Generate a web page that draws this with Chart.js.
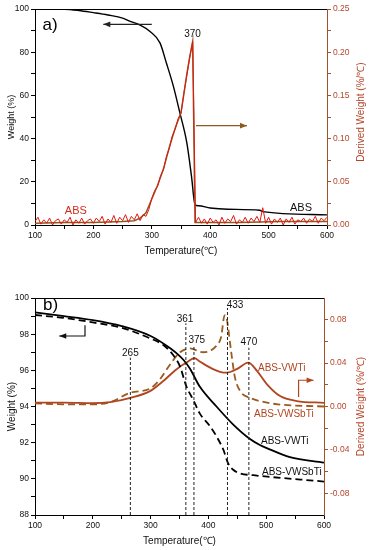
<!DOCTYPE html>
<html>
<head>
<meta charset="utf-8">
<script src="https://cdn.jsdelivr.net/npm/chart.js@4.4.0/dist/chart.umd.min.js"></script>
<style>
  body { margin: 0; background: #fff; }
  canvas { position: absolute; left: 0; }
  #grafA { top: 0; }
  #grafB { top: 260px; }
</style>
</head>
<body>
<canvas id="grafA" width="373" height="260"></canvas>
<canvas id="grafB" width="373" height="290"></canvas>
<script>
// ---- Datos panel a) ----
const tempPesoA = [100, 150, 175, 200, 225, 250, 263, 280, 297, 314, 325, 337, 348, 360, 368, 374, 380, 400, 430, 485, 490, 600];
const pesoA = [100, 99.9, 99.3, 98.3, 97.2, 95.8, 94.3, 92.5, 89.6, 84.3, 75, 64.2, 52, 38, 22.5, 9.4, 8.9, 7.9, 7.3, 6.8, 6.2, 4.7];

const tempDerivA = [100, 150, 200, 250, 270, 280, 290, 300, 310, 320, 330, 340, 350, 355, 360, 365, 370, 374, 380, 450, 520, 600];
const derivA = [0.002, 0.003, 0.003, 0.004, 0.005, 0.008, 0.014, 0.030, 0.046, 0.065, 0.090, 0.112, 0.130, 0.152, 0.175, 0.195, 0.2125, 0.003, 0.003, 0.003, 0.004, 0.004];

// señal ruidosa (cada 5 grados desde 100 hasta 600)
const ruidoA = [
  0.004, 0.009, 0.001, 0.006, 0.002, 0.008, 0.000, 0.005, 0.007, 0.001, 0.006, 0.003, 0.009, 0.000, 0.006, 0.002, 0.008, 0.001, 0.005, 0.007,
  0.002, 0.008, 0.004, 0.010, 0.001, 0.007, 0.003, 0.011, 0.002, 0.009, 0.005, 0.012, 0.003, 0.010, 0.006, 0.013, 0.005, 0.012, 0.010, 0.018,
  0.031, 0.040, 0.045, 0.057, 0.064, 0.079, 0.089, 0.103, 0.111, 0.123, 0.129, 0.153, 0.173, 0.194, 0.212,
  0.003, 0.009, 0.002, 0.007, 0.001, 0.008, 0.003, 0.006, 0.000, 0.009, 0.002, 0.007, 0.004, 0.011, 0.001, 0.006, 0.003, 0.009, 0.002, 0.008,
  0.004, 0.010, 0.003, 0.020, 0.002, 0.009, 0.001, 0.007, 0.003, 0.008, 0.000, 0.007, 0.003, 0.009, 0.001, 0.006, 0.004, 0.008, 0.002, 0.007,
  0.004, 0.010, 0.002, 0.008, 0.005, 0.009
];
const ruidoTempA = ruidoA.map((v, i) => 100 + i * 5);

// ---- Datos panel b) ----
const tempVWTi = [100, 150, 200, 250, 300, 334, 350, 357, 368, 385, 414, 443, 472, 489, 501, 541, 600];
const pesoVWTi = [99.2, 99.0, 98.78, 98.45, 97.9, 97.22, 96.8, 96.57, 96.1, 95.1, 94.0, 93.0, 92.2, 91.87, 91.7, 91.2, 90.9];

const tempVWSbTi = [100, 150, 200, 250, 299, 322, 339, 351, 362, 374, 385, 403, 414, 426, 434, 443, 455, 478, 600];
const pesoVWSbTi = [99.06, 98.9, 98.65, 98.35, 97.77, 97.4, 96.85, 96.2, 95.1, 94.36, 93.62, 92.9, 92.35, 91.6, 90.87, 90.5, 90.3, 90.2, 89.85];

const tempDtgVWTi = [100, 150, 200, 230, 265, 299, 322, 345, 362, 376, 385, 408, 420, 432, 449, 469, 484, 501, 524, 553, 600];
const dtgVWTi = [0.0035, 0.0035, 0.003, 0.004, 0.008, 0.0142, 0.0235, 0.0344, 0.0405, 0.0445, 0.0415, 0.0344, 0.032, 0.0312, 0.0344, 0.0405, 0.0328, 0.0207, 0.0096, 0.005, 0.0034];

const tempDtgVWSbTi = [100, 150, 200, 230, 265, 299, 316, 334, 351, 368, 391, 414, 422, 428, 431, 434, 440, 446, 455, 472, 489, 520, 600];
const dtgVWSbTi = [0.003, 0.002, 0.002, 0.004, 0.0127, 0.0165, 0.025, 0.039, 0.05, 0.0535, 0.05, 0.056, 0.064, 0.084, 0.083, 0.073, 0.048, 0.0266, 0.0142, 0.008, 0.005, 0.002, 0.0];

// picos marcados con lineas discontinuas
const picosT = [265, 361, 375, 433, 470];
const picosTope = [96.7, 98.6, 97.4, 99.45, 97.25];
const picosTexto = ['265', '361', '375', '433', '470'];

// ---- Marcas de los ejes ----
const xMarcas = [100, 200, 300, 400, 500, 600];
const xMenores = [150, 250, 350, 450, 550];
const pesoMarcasA = [0, 20, 40, 60, 80, 100];
const pesoMenoresA = [10, 30, 50, 70, 90];
const derivMarcasA = [0, 0.05, 0.10, 0.15, 0.20, 0.25];
const derivMenoresA = [0.025, 0.075, 0.125, 0.175, 0.225];
const pesoMarcasB = [88, 90, 92, 94, 96, 98, 100];
const pesoMenoresB = [89, 91, 93, 95, 97, 99];
const derivMarcasB = [-0.08, -0.04, 0, 0.04, 0.08];
const derivMenoresB = [-0.06, -0.02, 0.02, 0.06];

// colores
const NEGRO = '#000';
const ROJO = '#e3170f';
const MARRON = '#8c5a23';
const OXIDO = '#b0451f';
const MARRON_EJE = '#a0522d';
const TEXTO_DER = '#b5452a';
const FUENTE = "'Liberation Sans', Arial, sans-serif";

function puntos(xs, ys) {
  return xs.map((x, i) => ({ x: x, y: ys[i] }));
}

function ejeMarcas(mayores, menores, decimales) {
  const todas = mayores.concat(menores).sort((a, b) => a - b);
  return {
    afterBuildTicks: s => { s.ticks = todas.map(v => ({ value: v })); },
    callback: v => mayores.includes(v) ? (decimales ? v.toFixed(decimales) : String(v)) : ''
  };
}

function escalaX(ancho) {
  const m = ejeMarcas(xMarcas, xMenores, 0);
  return {
    type: 'linear', min: 100, max: 600,
    afterBuildTicks: m.afterBuildTicks,
    afterFit: s => { s.height = ancho; },
    border: { color: NEGRO, width: 1 },
    grid: { drawOnChartArea: false, tickLength: 4, color: NEGRO },
    ticks: { callback: m.callback, autoSkip: false, maxRotation: 0, padding: 2, color: '#111', font: { family: FUENTE, size: 8.5 } }
  };
}

function escalaY(pos, min, max, mayores, menores, dec, ancho, color, colorTxt) {
  const m = ejeMarcas(mayores, menores, dec);
  return {
    type: 'linear', position: pos, min: min, max: max,
    afterBuildTicks: m.afterBuildTicks,
    afterFit: s => { s.width = ancho; },
    border: { color: color, width: 1 },
    grid: { drawOnChartArea: false, tickLength: 4, color: color },
    ticks: { callback: m.callback, autoSkip: false, padding: 2, color: colorTxt, font: { family: FUENTE, size: 8.5 } }
  };
}

// ---- utilidades de dibujo ----
function texto(ctx, str, x, y, color, size, align, rot) {
  ctx.save();
  ctx.translate(x, y);
  if (rot) ctx.rotate(rot);
  ctx.fillStyle = color;
  ctx.font = size + 'px ' + FUENTE;
  ctx.textAlign = align || 'center';
  ctx.textBaseline = 'middle';
  ctx.fillText(str, 0, 0);
  ctx.restore();
}

function flecha(ctx, pts, color) {
  ctx.save();
  ctx.strokeStyle = color;
  ctx.fillStyle = color;
  ctx.lineWidth = 1.2;
  ctx.beginPath();
  ctx.moveTo(pts[0][0], pts[0][1]);
  for (let i = 1; i < pts.length; i++) ctx.lineTo(pts[i][0], pts[i][1]);
  ctx.stroke();
  const n = pts.length;
  const x1 = pts[n - 2][0], y1 = pts[n - 2][1], x2 = pts[n - 1][0], y2 = pts[n - 1][1];
  const a = Math.atan2(y2 - y1, x2 - x1);
  ctx.beginPath();
  ctx.moveTo(x2, y2);
  ctx.lineTo(x2 - 7 * Math.cos(a) + 2.8 * Math.sin(a), y2 - 7 * Math.sin(a) - 2.8 * Math.cos(a));
  ctx.lineTo(x2 - 7 * Math.cos(a) - 2.8 * Math.sin(a), y2 - 7 * Math.sin(a) + 2.8 * Math.cos(a));
  ctx.closePath();
  ctx.fill();
  ctx.restore();
}

function marco(chart) {
  const ctx = chart.ctx, ca = chart.chartArea;
  ctx.save();
  ctx.strokeStyle = NEGRO;
  ctx.lineWidth = 1;
  ctx.beginPath();
  ctx.moveTo(ca.left, ca.top + 0.5);
  ctx.lineTo(ca.right, ca.top + 0.5);
  ctx.stroke();
  ctx.restore();
}

// ---- Grafico a) ----
const extrasA = {
  id: 'extrasA',
  afterDraw(chart) {
    const ctx = chart.ctx, sx = chart.scales.x, yl = chart.scales.yPeso, yr = chart.scales.yDeriv;
    const ca = chart.chartArea;
    marco(chart);
    texto(ctx, 'a)', sx.getPixelForValue(113), yl.getPixelForValue(92.6), NEGRO, 17, 'left');
    texto(ctx, '370', sx.getPixelForValue(369.7), yr.getPixelForValue(0.2213), '#111', 10);
    texto(ctx, 'ABS', sx.getPixelForValue(170), yl.getPixelForValue(6.6), '#d42a1a', 11);
    texto(ctx, 'ABS', sx.getPixelForValue(555.5), yl.getPixelForValue(7.9), '#111', 11);
    flecha(ctx, [[sx.getPixelForValue(300), yl.getPixelForValue(92.9)], [sx.getPixelForValue(217), yl.getPixelForValue(92.9)]], '#222');
    flecha(ctx, [[sx.getPixelForValue(375.7), yr.getPixelForValue(0.115)], [sx.getPixelForValue(463), yr.getPixelForValue(0.115)]], MARRON);
    texto(ctx, 'Temperature(℃)', (ca.left + ca.right) / 2, 251.5, '#111', 10);
    texto(ctx, 'Weight (%)', 12, (ca.top + ca.bottom) / 2, '#111', 9, 'center', -Math.PI / 2);
    texto(ctx, 'Derived Weight (%/℃)', 361.5, 112, TEXTO_DER, 10, 'center', -Math.PI / 2);
  }
};

new Chart(document.getElementById('grafA'), {
  type: 'line',
  data: {
    datasets: [
      { data: puntos(ruidoTempA, ruidoA), yAxisID: 'yDeriv', borderColor: ROJO, borderWidth: 1 },
      { data: puntos(tempDerivA, derivA), yAxisID: 'yDeriv', borderColor: MARRON, borderWidth: 1.5 },
      { data: puntos(tempPesoA, pesoA), yAxisID: 'yPeso', borderColor: NEGRO, borderWidth: 1.4, cubicInterpolationMode: 'monotone' }
    ]
  },
  options: {
    responsive: false,
    animation: false,
    layout: { padding: { top: 9, left: 0, right: 0, bottom: 0 } },
    elements: { point: { radius: 0 } },
    plugins: { legend: { display: false }, tooltip: { enabled: false } },
    scales: {
      x: escalaX(35),
      yPeso: escalaY('left', 0, 100, pesoMarcasA, pesoMenoresA, 0, 35, NEGRO, '#111'),
      yDeriv: escalaY('right', 0, 0.25, derivMarcasA, derivMenoresA, 2, 46, MARRON_EJE, TEXTO_DER)
    }
  },
  plugins: [extrasA]
});

// ---- Grafico b) ----
const extrasB = {
  id: 'extrasB',
  afterDraw(chart) {
    const ctx = chart.ctx, sx = chart.scales.x, yl = chart.scales.yPeso, yr = chart.scales.yDeriv;
    const ca = chart.chartArea;
    marco(chart);
    texto(ctx, 'b)', sx.getPixelForValue(113.8), yl.getPixelForValue(99.6), NEGRO, 17, 'left');
    const etiquetaPos = [[265, 96.97], [359.5, 98.84], [379.8, 97.68], [446, 99.61], [470, 97.53]];
    picosTexto.forEach((t, i) => {
      texto(ctx, t, sx.getPixelForValue(etiquetaPos[i][0]), yl.getPixelForValue(etiquetaPos[i][1]), '#111', 10);
    });
    texto(ctx, 'ABS-VWTi', sx.getPixelForValue(485.8), yl.getPixelForValue(96.13), OXIDO, 10, 'left');
    texto(ctx, 'ABS-VWSbTi', sx.getPixelForValue(478.9), yl.getPixelForValue(93.58), OXIDO, 10, 'left');
    texto(ctx, 'ABS-VWTi', sx.getPixelForValue(491), yl.getPixelForValue(92.09), '#111', 10, 'left');
    texto(ctx, 'ABS-VWSbTi', sx.getPixelForValue(492.7), yl.getPixelForValue(90.39), '#111', 10, 'left');
    flecha(ctx, [[sx.getPixelForValue(186.5), yl.getPixelForValue(98.5)], [sx.getPixelForValue(186.5), yl.getPixelForValue(97.9)], [sx.getPixelForValue(142), yl.getPixelForValue(97.9)]], '#111');
    flecha(ctx, [[sx.getPixelForValue(556), yr.getPixelForValue(0.0087)], [sx.getPixelForValue(556), yr.getPixelForValue(0.0242)], [sx.getPixelForValue(582), yr.getPixelForValue(0.0242)]], OXIDO);
    texto(ctx, 'Temperature(℃)', (ca.left + ca.right) / 2, 281.5, '#111', 10);
    texto(ctx, 'Weight (%)', 12, (ca.top + ca.bottom) / 2, '#111', 10, 'center', -Math.PI / 2);
    texto(ctx, 'Derived Weight (%/℃)', 361.5, 146.5, TEXTO_DER, 10, 'center', -Math.PI / 2);
  }
};

const lineasPicos = picosT.map((t, i) => ({
  data: [{ x: t, y: 88 }, { x: t, y: picosTope[i] }],
  yAxisID: 'yPeso', borderColor: '#222', borderWidth: 1, borderDash: [3, 2]
}));

new Chart(document.getElementById('grafB'), {
  type: 'line',
  data: {
    datasets: lineasPicos.concat([
      { data: puntos(tempVWTi, pesoVWTi), yAxisID: 'yPeso', borderColor: NEGRO, borderWidth: 1.8, cubicInterpolationMode: 'monotone' },
      { data: puntos(tempVWSbTi, pesoVWSbTi), yAxisID: 'yPeso', borderColor: NEGRO, borderWidth: 1.8, borderDash: [7, 4], cubicInterpolationMode: 'monotone' },
      { data: puntos(tempDtgVWTi, dtgVWTi), yAxisID: 'yDeriv', borderColor: OXIDO, borderWidth: 1.8, cubicInterpolationMode: 'monotone' },
      { data: puntos(tempDtgVWSbTi, dtgVWSbTi), yAxisID: 'yDeriv', borderColor: '#9a5b1e', borderWidth: 1.8, borderDash: [7, 4], cubicInterpolationMode: 'monotone' }
    ])
  },
  options: {
    responsive: false,
    animation: false,
    layout: { padding: { top: 38, left: 0, right: 0, bottom: 0 } },
    elements: { point: { radius: 0 } },
    plugins: { legend: { display: false }, tooltip: { enabled: false } },
    scales: {
      x: escalaX(35),
      yPeso: escalaY('left', 88, 100, pesoMarcasB, pesoMenoresB, 0, 35, NEGRO, '#111'),
      yDeriv: escalaY('right', -0.1, 0.1, derivMarcasB, derivMenoresB, 2, 49, MARRON_EJE, TEXTO_DER)
    }
  },
  plugins: [extrasB]
});
</script>
</body>
</html>
